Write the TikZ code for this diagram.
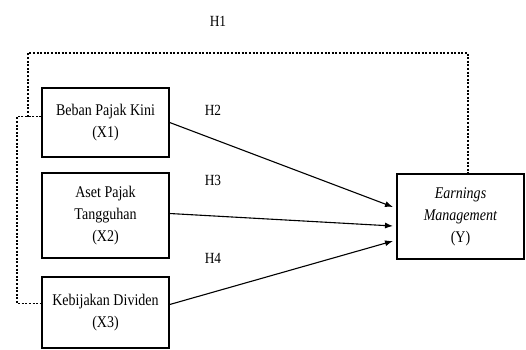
\documentclass[tikz,border=0pt]{standalone}
\usepackage{fontspec}
\setmainfont{Liberation Serif}
\newfontfamily\narrowserif[FakeStretch=0.86]{Liberation Serif}
\usetikzlibrary{arrows.meta}
\begin{document}
\begin{tikzpicture}[x=1pt,y=-1pt,
  box/.style={draw,line width=1.4pt,align=center,inner sep=0pt,
    minimum width=127pt,font=\narrowserif\fontsize{16.3}{22}\selectfont},
  hlab/.style={font=\narrowserif\fontsize{15.5}{16}\selectfont},
  arr/.style={line width=1.1pt,-{Latex[length=8pt,width=6pt]}},
  dotline/.style={line width=1.5pt,dash pattern=on 2pt off 1.6pt}]
 \useasboundingbox (0,0) rectangle (526,349);
 \node[box,minimum height=69pt] (x1) at (105.5,122.5) {Beban Pajak Kini\\(X1)};
 \node[box,minimum height=85pt] (x2) at (105.5,215.5) {Aset Pajak\\Tangguhan\\(X2)};
 \node[box,minimum height=71pt] (x3) at (105.5,312.5) {Kebijakan Dividen\\(X3)};
 \node[box,minimum width=127pt,minimum height=85pt] (y) at (460.5,216.5) {\textit{Earnings}\\\textit{Management}\\(Y)};
 \node[hlab] (h1) at (218,21) {H1};
 \node[hlab] (h2) at (213,110) {H2};
 \node[hlab] (h3) at (213,180) {H3};
 \node[hlab] (h4) at (213,258) {H4};
 \coordinate (in1) at (393,207);
 \coordinate (in2) at (393,226);
 \coordinate (in3) at (393,241);
 \draw[arr] (x1.east) -- (in1);
 \draw[arr] ([yshift=2pt]x2.east) -- (in2);
 \draw[arr] ([yshift=8pt]x3.east) -- (in3);
 \coordinate (l1) at (17,116.5);
 \coordinate (l3) at (17,303.5);
 \coordinate (j) at (28,116.5);
 \coordinate (t2) at (468,53);
 \draw[dotline] ([yshift=6pt]x1.west) -- (l1) -- (l3) -- ([yshift=9pt]x3.west);
 \draw[dotline] (j) |- (t2) -- ([xshift=7.5pt]y.north);
\end{tikzpicture}
\end{document}
